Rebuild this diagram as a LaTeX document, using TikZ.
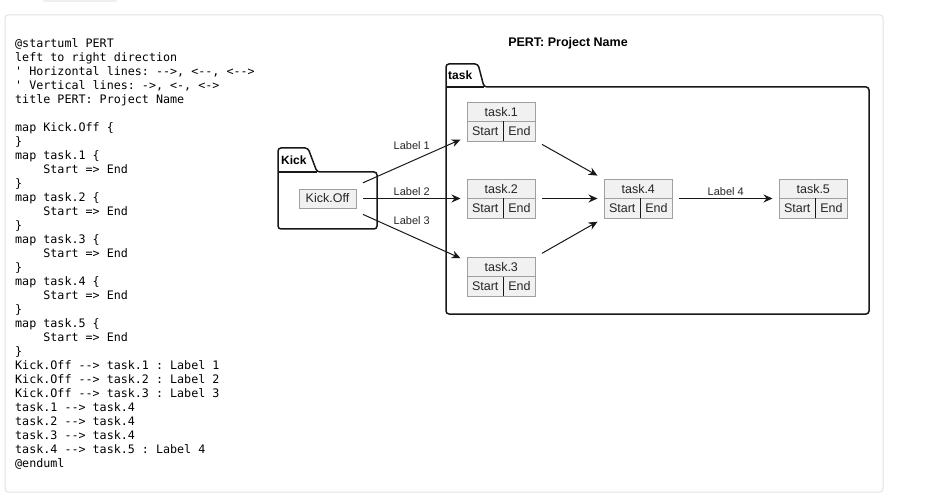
\documentclass[tikz,border=0pt]{standalone}
\usepackage{xcolor}
\usepackage{fontspec}
\setmainfont{Liberation Sans}
\setmonofont{DejaVu Sans Mono}
\usepackage{tikz}
\usetikzlibrary{arrows.meta, positioning, fit}
\definecolor{panelline}{HTML}{E2E2E2}
\definecolor{tabfill}{HTML}{EEEEEE}
\definecolor{pkgline}{HTML}{181818}
\definecolor{mapline}{HTML}{A0A0A0}
\definecolor{mapfill}{HTML}{F1F1F1}
\definecolor{maptext}{HTML}{262626}

\begin{document}
\begin{tikzpicture}[x=1pt, y=-1pt, font=\fontsize{12.5}{15}\selectfont,
    mhead/.style={draw=mapline, fill=mapfill, text=maptext, minimum height=19.5pt, inner sep=0pt, outer sep=0pt},
    mcell/.style={mhead, anchor=north west},
    mapfit/.style={inner sep=0pt, outer sep=6.5pt},
    split/.style={draw=pkgline, line width=0.8pt},
    arr/.style={-{Stealth[length=9pt, width=8pt, inset=3pt]}, draw=pkgline, line width=1pt},
    lbl/.style={font=\fontsize{11}{13}\selectfont, text=maptext, inner sep=0pt},
    pkg/.style={draw=pkgline, line width=1.5pt, rounded corners=3pt},
    pkgname/.style={font=\bfseries\fontsize{12}{14}\selectfont, anchor=west, inner sep=0pt},
    code/.style={font=\ttfamily\fontsize{11.7}{14}\selectfont, align=left, inner sep=0pt, anchor=north west}]
\useasboundingbox (0,0) rectangle (939,494);

% page frame
\fill[tabfill, rounded corners=2pt] (43,-4) rectangle (117,2);
\draw[panelline, line width=1pt, rounded corners=3pt] (5,15) rectangle (883,492);

% source text
\node[code] (code) at (15,38) {@startuml PERT\\
left to right direction\\
' Horizontal lines: -->, <--, <-->\\
' Vertical lines: ->, <-, <->\\
title PERT: Project Name\\[14pt]
map Kick.Off \{\\
\}\\
map task.1 \{\\
\phantom{0000}Start => End\\
\}\\
map task.2 \{\\
\phantom{0000}Start => End\\
\}\\
map task.3 \{\\
\phantom{0000}Start => End\\
\}\\
map task.4 \{\\
\phantom{0000}Start => End\\
\}\\
map task.5 \{\\
\phantom{0000}Start => End\\
\}\\
Kick.Off --> task.1 : Label 1\\
Kick.Off --> task.2 : Label 2\\
Kick.Off --> task.3 : Label 3\\
task.1 --> task.4\\
task.2 --> task.4\\
task.3 --> task.4\\
task.4 --> task.5 : Label 4\\
@enduml};

\node[font=\bfseries\fontsize{12.5}{15}\selectfont] (title) at (568,43) {PERT: Project Name};

% packages
\draw[pkg] (278,229) -- (278,148) -- (308,148) -- (317,172) -- (377,172) -- (377,229) -- cycle;
\draw[pkgline, line width=1.5pt] (278,172) -- (317,172);
\node[pkgname] (kickname) at (281,160) {Kick};
\draw[pkg] (446,314) -- (446,64) -- (478,64) -- (484,87) -- (869,87) -- (869,314) -- cycle;
\draw[pkgline, line width=1.5pt] (446,87) -- (484,87);
\node[pkgname] (taskname) at (448,75) {task};

% maps
\node[mhead, minimum width=57pt, minimum height=19pt, outer sep=7pt] (kickoff) at (327.5,198.5) {Kick.Off};

\node[mcell, minimum width=68.5pt] (t1h) at (467,102) {task.1};
\node[mcell, minimum width=36.5pt] (t1s) at (t1h.south west) {Start};
\node[mcell, minimum width=32pt] (t1e) at (t1s.north east) {End};
\draw[split] (t1s.north east) -- (t1s.south east);
\node[mapfit, fit=(t1h)(t1s)(t1e)] (task1) {};

\node[mcell, minimum width=68.5pt] (t2h) at (467,179) {task.2};
\node[mcell, minimum width=36.5pt] (t2s) at (t2h.south west) {Start};
\node[mcell, minimum width=32pt] (t2e) at (t2s.north east) {End};
\draw[split] (t2s.north east) -- (t2s.south east);
\node[mapfit, fit=(t2h)(t2s)(t2e)] (task2) {};

\node[mcell, minimum width=68.5pt] (t3h) at (467,257) {task.3};
\node[mcell, minimum width=36.5pt] (t3s) at (t3h.south west) {Start};
\node[mcell, minimum width=32pt] (t3e) at (t3s.north east) {End};
\draw[split] (t3s.north east) -- (t3s.south east);
\node[mapfit, fit=(t3h)(t3s)(t3e)] (task3) {};

\node[mcell, minimum width=68.5pt] (t4h) at (604,179) {task.4};
\node[mcell, minimum width=36.5pt] (t4s) at (t4h.south west) {Start};
\node[mcell, minimum width=32pt] (t4e) at (t4s.north east) {End};
\draw[split] (t4s.north east) -- (t4s.south east);
\node[mapfit, fit=(t4h)(t4s)(t4e)] (task4) {};

\node[mcell, minimum width=68.5pt] (t5h) at (779,179) {task.5};
\node[mcell, minimum width=36.5pt] (t5s) at (t5h.south west) {Start};
\node[mcell, minimum width=32pt] (t5e) at (t5s.north east) {End};
\draw[split] (t5s.north east) -- (t5s.south east);
\node[mapfit, fit=(t5h)(t5s)(t5e)] (task5) {};

% links
\draw[arr] (kickoff) -- node[lbl, yshift=15.5pt] (lab1) {Label 1} (task1);
\draw[arr] (kickoff) -- node[lbl, yshift=7pt] (lab2) {Label 2} (task2);
\draw[arr] (kickoff) -- node[lbl, yshift=15.5pt] (lab3) {Label 3} (task3);
\draw[arr] (task1) -- (task4);
\draw[arr] (task2) -- (task4);
\draw[arr] (task3) -- (task4);
\draw[arr] (task4) -- node[lbl, yshift=7pt] (lab4) {Label 4} (task5);
\end{tikzpicture}
\end{document}
